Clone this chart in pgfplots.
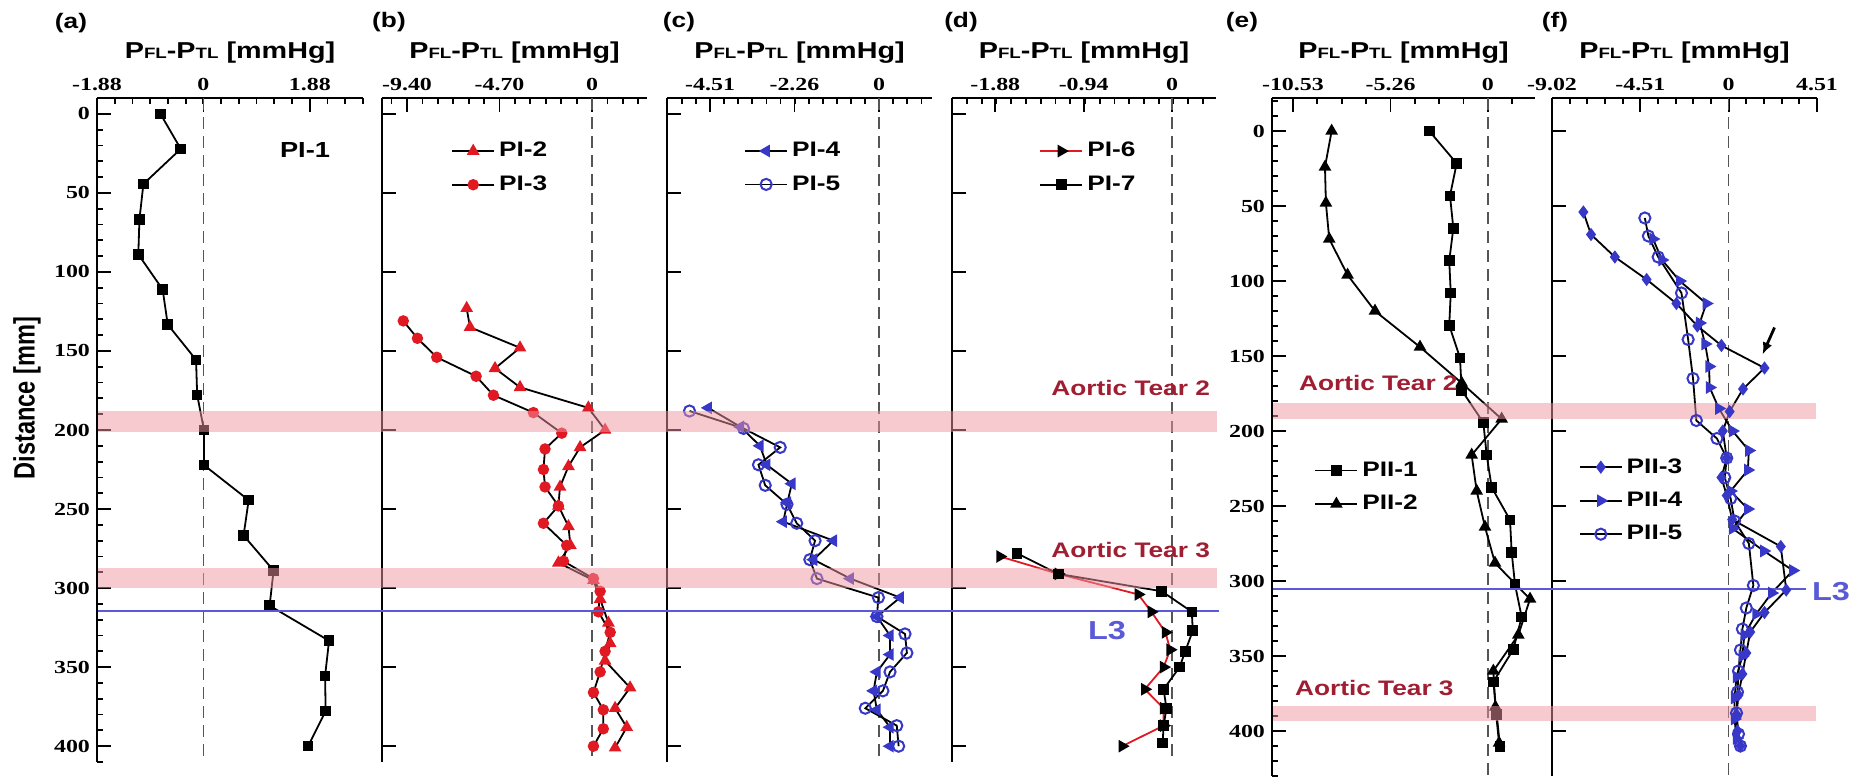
\documentclass[border=0pt]{standalone}
\usepackage{fontspec}
\setmainfont{Liberation Sans}[FakeStretch=1.25]
\newfontfamily\tickfont{Liberation Serif}[FakeStretch=1.3]
\newfontfamily\plainsans{Liberation Sans}
\usepackage{pgfplots}
\pgfplotsset{compat=1.18}
\usetikzlibrary{arrows.meta}

\definecolor{tearred}{RGB}{160,30,50}
\definecolor{bandpink}{RGB}{239,150,162}
\definecolor{lthree}{RGB}{90,90,215}
\definecolor{mred}{RGB}{225,25,35}
\definecolor{mblue}{RGB}{55,55,200}
\definecolor{zgray}{RGB}{85,85,85}

\newcommand{\ptitle}{\bfseries\fontsize{11.5}{13}\selectfont P{\fontsize{7.5}{8}\selectfont FL}-P{\fontsize{7.5}{8}\selectfont TL} [mmHg]}
\newcommand{\plab}{\bfseries\fontsize{10.5}{12}\selectfont}

\pgfplotsset{
  panel/.style={
    scale only axis, anchor=north west, clip=false,
    axis x line=top, axis y line=left, axis line style={-, line width=1.3pt},
    y dir=reverse, tick align=inside,
    major tick length=7pt, minor tick length=3pt,
    tick style={black, line width=0.9pt},
    ticklabel style={font=\tickfont\bfseries\fontsize{9.2}{10}\selectfont},
    legend style={draw=none, fill=none, font=\plab, anchor=north west, inner sep=0pt, row sep=4pt, cells={anchor=west}},
    legend image code/.code={\draw[mark repeat=2,mark phase=2,##1] plot coordinates {(0pt,0pt) (10.5pt,0pt) (21pt,0pt)};},
    every axis plot/.append style={line width=0.9pt},
  },
  topgrp/.style={ymin=-10, ymax=410, height=332pt, minor ytick={0,10,...,410}},
  botgrp/.style={ymin=-22, ymax=430, height=339pt, minor ytick={-20,-10,...,430}},
}
\newcommand{\zeroline}[2]{\draw[zgray, line width=0.8pt, dash pattern=on 6pt off 3.5pt] (axis cs:0,#1) -- (axis cs:0,#2);}
% long unlabelled ticks on the left of panels without distance labels
\newcommand{\bigticks}[1]{\pgfplotsinvokeforeach{0,50,100,150,200,250,300,350,400}{\draw[black, line width=0.9pt] (axis cs:#1,##1) -- ++(7pt,0pt);}}

\begin{document}
\begin{tikzpicture}
\path[use as bounding box] (0,0) rectangle (931.5pt,-389.5pt);

% (a)
\begin{axis}[panel, topgrp, at={(48.5pt,-49pt)}, width=133pt,
  ytick={0,50,...,400}, yticklabels={0,50,100,150,200,250,300,350,400},
  xmin=-1.88, xmax=2.82, xtick={-1.88,0,1.88}, xticklabels={-1.88,0,1.88},
  minor xtick={-1.88,-1.5667,...,2.82}]
\zeroline{-10}{410}
\addplot[black, mark=square*, mark size=2.2pt] coordinates {
(-0.76,0) (-0.40,22.2) (-1.06,44.4) (-1.13,66.7) (-1.15,88.9) (-0.72,111.1) (-0.63,133.3)
(-0.13,155.6) (-0.11,177.8) (0.01,200) (0.01,222.2) (0.80,244.4) (0.71,266.7) (1.24,288.9)
(1.17,311.1) (2.22,333.3) (2.15,355.6) (2.16,377.8) (1.85,400)};
\end{axis}

% (b)
\begin{axis}[panel, topgrp, ytick=\empty, at={(191pt,-49pt)}, width=132.5pt,
  xmin=-10.67, xmax=2.79, xtick={-9.40,-4.70,0}, xticklabels={-9.40,-4.70,0},
  minor xtick={-10.1833,-9.4,...,2.79},
  legend style={at={(0.26,0.94)}}]
\bigticks{-10.67}
\zeroline{-10}{410}
\addplot[black, mark=triangle*, mark size=2.8pt, mark options={mred}] coordinates {
(-6.37,123) (-6.20,135) (-3.66,148) (-4.93,161) (-3.66,173) (-0.19,186) (0.66,200) (-0.61,211)
(-1.20,223) (-1.63,236) (-1.71,248) (-1.20,261) (-1.10,273) (-1.71,284) (0.07,295) (0.41,307)
(0.83,322) (0.92,335) (0.66,346) (1.93,363) (1.17,376) (1.76,388) (1.17,401)};
\addlegendentry{PI-2}
\addplot[black, mark=*, mark size=2.4pt, mark options={mred}] coordinates {
(-9.59,131) (-8.87,142) (-7.89,154) (-5.89,166) (-5.01,178) (-2.98,189) (-1.54,202) (-2.39,212)
(-2.47,225) (-2.39,236) (-1.71,248) (-2.47,259) (-1.29,273) (-1.45,283) (0.07,294) (0.41,302)
(0.32,315) (0.92,328) (0.66,340) (0.41,353) (0.07,366) (0.57,377) (0.57,389) (0.07,400)};
\addlegendentry{PI-3}
\end{axis}

% (c)
\begin{axis}[panel, topgrp, ytick=\empty, at={(333.5pt,-49pt)}, width=132.5pt,
  xmin=-5.66, xmax=1.41, xtick={-4.51,-2.26,0}, xticklabels={-4.51,-2.26,0},
  minor xtick={-5.2617,-4.8858,...,1.41},
  legend style={at={(0.29,0.94)}}]
\bigticks{-5.66}
\zeroline{-10}{410}
\addplot[black, mark=triangle*, mark size=2.8pt, mark options={mblue, rotate=90}] coordinates {
(-4.56,186) (-3.70,198) (-3.18,210) (-3.00,222) (-2.33,234) (-2.45,246) (-2.56,258) (-1.22,270)
(-1.75,282) (-0.77,294) (0.56,306) (-0.06,318) (0.29,330) (0.29,342) (-0.06,353) (-0.15,365)
(-0.06,377) (0.29,388) (0.29,400)};
\addlegendentry{PI-4}
\addplot[black, mark=o, mark size=2.8pt, mark options={mblue, line width=1pt}] coordinates {
(-5.06,188) (-3.62,199) (-2.64,211) (-3.22,222) (-3.04,235) (-2.46,247) (-2.20,259) (-1.71,270)
(-1.85,282) (-1.66,294) (-0.02,306) (-0.06,318) (0.69,329) (0.74,341) (0.29,353) (0.10,365)
(-0.37,376) (0.47,387) (0.52,400)};
\addlegendentry{PI-5}
\end{axis}

% (d)
\begin{axis}[panel, topgrp, ytick=\empty, at={(476pt,-49pt)}, width=132pt,
  xmin=-2.34, xmax=0.467, xtick={-1.88,-0.94,0}, xticklabels={-1.88,-0.94,0},
  minor xtick={-2.3367,-2.18,...,0.467},
  legend style={at={(0.33,0.94)}}]
\bigticks{-2.34}
\zeroline{-10}{410}
\addplot[mred, mark=triangle*, mark size=2.8pt, mark options={black, rotate=-90}] coordinates {
(-1.83,280) (-1.21,291) (-0.36,304) (-0.22,315) (-0.07,328) (-0.02,339) (-0.09,350) (-0.29,364)
(-0.09,376) (-0.09,387) (-0.53,400)};
\addlegendentry{PI-6}
\addplot[black, mark=square*, mark size=2.2pt] coordinates {
(-1.65,278) (-1.21,291) (-0.11,302) (0.21,315) (0.22,327) (0.14,340) (0.08,350) (-0.09,364)
(-0.06,376) (-0.09,387) (-0.10,398)};
\addlegendentry{PI-7}
% tear bands and L3 across panels (a)-(d)
\fill[bandpink, opacity=0.5] (axis cs:-11.42,188) rectangle (axis cs:0.478,201);
\fill[bandpink, opacity=0.5] (axis cs:-11.42,287) rectangle (axis cs:0.478,300);
\draw[lthree, line width=1pt] (axis cs:-11.42,314.6) -- (axis cs:0.50,314.6);
\end{axis}

% (e)
\begin{axis}[panel, botgrp, at={(636pt,-49pt)}, width=131.5pt,
  ytick={0,50,...,400}, yticklabels={0,50,100,150,200,250,300,350,400},
  xmin=-11.66, xmax=2.54, xtick={-10.53,-5.26,0}, xticklabels={-10.53,-5.26,0},
  minor xtick={-10.53,-9.21375,...,2.54},
  legend style={at={(0.16,0.47)}}]
\zeroline{-22}{430}
\addplot[black, mark=square*, mark size=2.2pt] coordinates {
(-3.17,0) (-1.69,21.6) (-2.05,43.2) (-1.87,64.8) (-2.09,86.4) (-2.01,108) (-2.09,129.6)
(-1.51,151.2) (-1.42,172.8) (-0.25,194.4) (-0.07,216) (0.20,237.6) (1.19,259.2) (1.28,280.8)
(1.46,302.4) (1.82,324) (1.37,345.6) (0.29,367.2) (0.47,388.8) (0.65,410.4)};
\addlegendentry{PII-1}
\addplot[black, mark=triangle*, mark size=2.8pt] coordinates {
(-8.44,0) (-8.80,24) (-8.75,48) (-8.57,72) (-7.58,96) (-6.10,120) (-3.67,144) (-1.42,168)
(0.74,192) (-0.88,216) (-0.61,240) (-0.16,264) (0.38,288) (2.27,312) (1.64,336) (0.29,360)
(0.40,384) (0.60,408)};
\addlegendentry{PII-2}
\end{axis}

% (f)
\begin{axis}[panel, botgrp, ytick=\empty, at={(776pt,-49pt)}, width=132.5pt,
  xmin=-9.02, xmax=4.51, xtick={-9.02,-4.51,0,4.51}, xticklabels={-9.02,-4.51,0,4.51},
  minor xtick={-9.02,-8.118,...,4.52},
  legend style={at={(0.10,0.475)}}]
\bigticks{-9.02}
\zeroline{-22}{430}
\addplot[black, mark=diamond*, mark size=2.6pt, mark options={mblue}] coordinates {
(-7.42,54) (-7.03,69) (-5.81,84) (-4.19,99) (-2.67,115) (-1.60,130) (-0.37,143) (1.83,158)
(0.73,172) (0.05,187) (-0.30,200) (-0.10,218) (-0.37,231) (-0.10,243) (0.18,259) (2.66,277)
(2.94,306) (1.83,321) (1.10,334) (0.90,348) (0.70,362) (0.50,376) (0.40,389) (0.45,400) (0.60,410)};
\addlegendentry{PII-3}
\addplot[black, mark=triangle*, mark size=2.8pt, mark options={mblue, rotate=-90}] coordinates {
(-3.86,72) (-3.40,86) (-2.50,100) (-1.14,115) (-1.48,128) (-1.20,142) (-1.00,157) (-0.97,171)
(-0.50,185) (0.20,200) (1.03,213) (0.98,226) (0.10,240) (0.98,252) (0.20,265) (1.80,280)
(3.28,293) (2.20,308) (1.40,322) (0.80,336) (0.70,350) (0.40,364) (0.30,378) (0.30,392) (0.40,405)};
\addlegendentry{PII-4}
\addplot[black, mark=o, mark size=2.8pt, mark options={mblue, line width=1pt}] coordinates {
(-4.28,58) (-4.10,70) (-3.60,84) (-2.41,108) (-2.07,139) (-1.82,165) (-1.65,193) (-0.60,205)
(-0.10,218) (-0.20,231) (0.10,245) (0.30,260) (1.03,275) (1.26,303) (0.90,318) (0.70,332)
(0.60,346) (0.50,360) (0.45,374) (0.40,388) (0.50,402) (0.60,410)};
\addlegendentry{PII-5}
\draw[-{Latex[length=6pt,width=5pt]}, line width=1.4pt] (axis cs:2.34,131) -- (axis cs:1.73,149);
% tear bands and L3 across panels (e)-(f)
\fill[bandpink, opacity=0.5] (axis cs:-23.29,181) rectangle (axis cs:4.48,192);
\fill[bandpink, opacity=0.5] (axis cs:-23.29,383) rectangle (axis cs:4.48,393);
\draw[lthree, line width=1pt] (axis cs:-23.29,305) -- (axis cs:3.97,305);
\end{axis}

% titles, panel letters and annotations
\foreach \cx in {115,257.25,399.75,542,701.75,842.25}{\node at (\cx pt,-26.5pt) {\ptitle};}
\node at (35.5pt,-11.5pt) {\plab(a)};
\node at (194.5pt,-11pt) {\plab(b)};
\node at (339.5pt,-11pt) {\plab(c)};
\node at (480.5pt,-11pt) {\plab(d)};
\node at (621pt,-11pt) {\plab(e)};
\node at (777.5pt,-11pt) {\plab(f)};
\node[rotate=90] at (13.5pt,-199pt) {\plainsans\bfseries\fontsize{11.8}{13}\selectfont\scalebox{1}[1.25]{Distance [mm]}};
\node at (152.5pt,-75pt) {\bfseries\fontsize{10.9}{12}\selectfont PI-1};
\node[anchor=east, text=tearred] at (608.5pt,-194pt) {\plab Aortic Tear 2};
\node[anchor=east, text=tearred] at (608.5pt,-275pt) {\plab Aortic Tear 3};
\node[text=lthree] at (553.5pt,-315.5pt) {\bfseries\fontsize{13}{14}\selectfont L3};
\node[anchor=west, text=tearred] at (646pt,-191.5pt) {\plab Aortic Tear 2};
\node[anchor=west, text=tearred] at (644pt,-344pt) {\plab Aortic Tear 3};
\node[text=lthree] at (915.5pt,-296pt) {\bfseries\fontsize{13}{14}\selectfont L3};
\end{tikzpicture}
\end{document}
